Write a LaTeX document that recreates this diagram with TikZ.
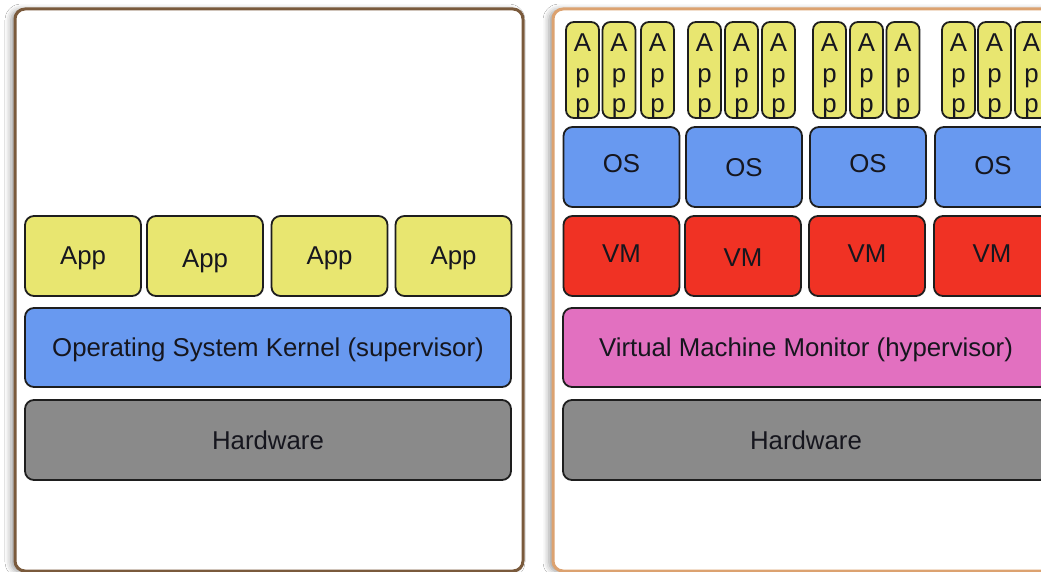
\documentclass[tikz,border=0pt]{standalone}
\usepackage{fontspec}
\setmainfont{Liberation Sans}
\usetikzlibrary{shadows.blur}
\definecolor{appyellow}{RGB}{232,230,112}
\definecolor{osblue}{RGB}{104,153,240}
\definecolor{vmred}{RGB}{240,50,36}
\definecolor{hvpink}{RGB}{226,112,192}
\definecolor{hwgray}{RGB}{138,138,138}
\definecolor{edgecol}{RGB}{30,30,30}
\definecolor{inkcol}{RGB}{22,22,30}
\definecolor{frameL}{RGB}{122,90,60}
\definecolor{frameR}{RGB}{220,162,112}
% move a label's ink down without changing its box, so the node keeps its centring
\newcommand{\lowerby}[2]{\raisebox{-#1}[\height][\depth]{#2}}
\begin{document}
\begin{tikzpicture}[x=1pt,y=-1pt,
  panel/.style={fill=white, line width=3pt, rounded corners=10pt,
    minimum width=508pt, minimum height=562pt, inner sep=0pt,
    blur shadow={shadow xshift=-4pt, shadow yshift=-1pt, shadow blur radius=6pt, shadow opacity=40}},
  layer/.style={draw=edgecol, line width=1.8pt, rounded corners=9pt, inner sep=0pt,
    minimum height=80pt, text=inkcol, font=\fontsize{25.8pt}{30.5pt}\selectfont},
  appbox/.style={layer, fill=appyellow, minimum width=116pt},
  osbox/.style={layer, fill=osblue, minimum width=116pt},
  vmbox/.style={layer, fill=vmred, minimum width=116pt},
  kernelbox/.style={layer, fill=osblue, minimum width=486pt, minimum height=79pt},
  hvbox/.style={layer, fill=hvpink, minimum width=486pt, minimum height=79pt},
  hwbox/.style={layer, fill=hwgray, minimum width=486pt},
  smallapp/.style={layer, fill=appyellow, rounded corners=8pt, minimum width=33pt, minimum height=96pt},
]
\useasboundingbox (0,0) rectangle (1041,572);
\clip (0,0) rectangle (1041,572);
\fill[white] (0,0) rectangle (1041,572);

% ---- left: conventional operating system ----
\node[panel, draw=frameL] (panelL) at (269,290) {};
\node[appbox] (appA) at (83,256) {\lowerby{2pt}{App}};
\node[appbox] (appB) at (205,256) {\lowerby{5pt}{App}};
\node[appbox] (appC) at (329.5,256) {\lowerby{2pt}{App}};
\node[appbox] (appD) at (453.5,256) {\lowerby{2pt}{App}};
\node[kernelbox] (kernel) at (268,347.5) {\lowerby{2.5pt}{Operating System Kernel (supervisor)}};
\node[hwbox] (hwL) at (268,440) {\lowerby{0.5pt}{Hardware}};

% ---- right: virtual machine monitor ----
\node[panel, draw=frameR] (panelR) at (807,290) {};
\foreach \x [count=\i] in {582.5,619,657.5, 704.5,741.5,778.5, 829.5,866.5,903, 958.5,994.5,1031.5}
  \node[smallapp] (sapp\i) at (\x,70)
    {\lowerby{6pt}{\begin{tabular}{@{}c@{}}A\\p\\p\end{tabular}}};

\node[osbox] (os1) at (621.5,167) {\lowerby{-3pt}{OS}};
\node[osbox] (os2) at (744,167) {\lowerby{1pt}{OS}};
\node[osbox] (os3) at (868,167) {\lowerby{-3pt}{OS}};
\node[osbox] (os4) at (993,167) {\lowerby{-1pt}{OS}};

\node[vmbox] (vm1) at (621.5,256) {\lowerby{-2pt}{VM}};
\node[vmbox] (vm2) at (743,256) {\lowerby{2pt}{VM}};
\node[vmbox] (vm3) at (867,256) {\lowerby{-2pt}{VM}};
\node[vmbox] (vm4) at (992,256) {\lowerby{-2pt}{VM}};

\node[hvbox] (hyper) at (806,347.5) {\lowerby{2.5pt}{Virtual Machine Monitor (hypervisor)}};
\node[hwbox] (hwR) at (806,440) {\lowerby{0.5pt}{Hardware}};
\end{tikzpicture}
\end{document}
